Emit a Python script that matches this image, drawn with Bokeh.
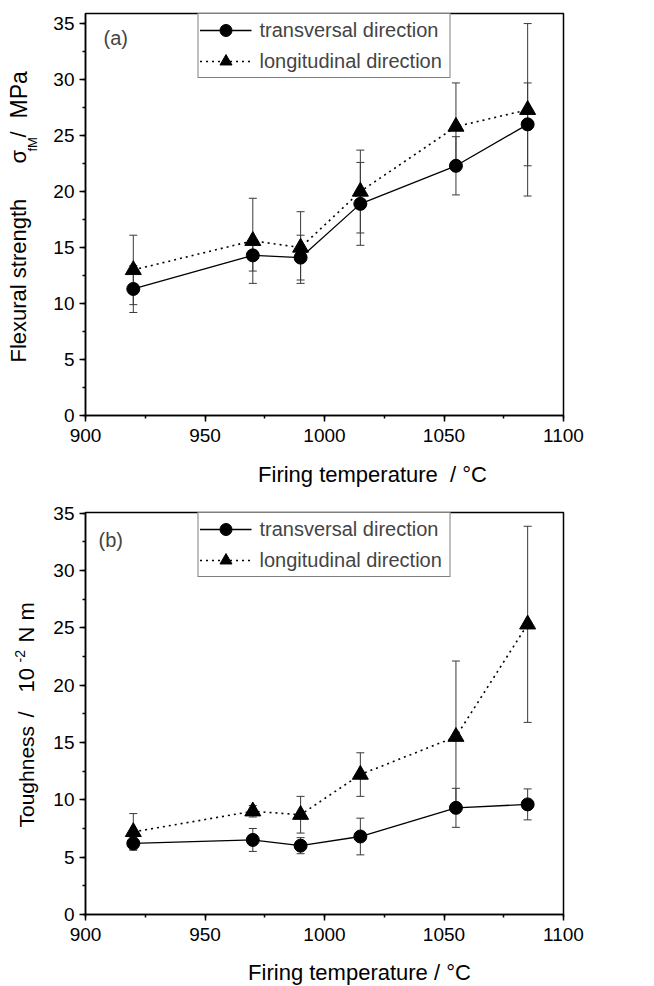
import math
from bokeh.plotting import figure
from bokeh.models import (SingleIntervalTicker, Range1d, Whisker, ColumnDataSource,
                          Legend, LegendItem, Label, TeeHead)
from bokeh.layouts import column, row
from bokeh.embed import file_html
from bokeh.resources import INLINE
from bokeh.core.properties import value

# ---------------- data ----------------
temps = [920, 970, 990, 1015, 1055, 1085]

flex_trans = [11.3, 14.3, 14.1, 18.9, 22.3, 26.0]
flex_trans_err = [2.1, 1.4, 2.0, 3.7, 2.6, 3.7]
flex_long = [13.0, 15.6, 15.0, 20.0, 25.8, 27.3]
flex_long_err = [3.1, 3.8, 3.2, 3.7, 3.9, 7.7]

tough_trans = [6.2, 6.5, 6.0, 6.8, 9.3, 9.6]
tough_trans_err = [0.5, 1.0, 0.7, 1.6, 1.7, 1.35]
tough_long = [7.2, 9.0, 8.7, 12.2, 15.5, 25.3]
tough_long_err = [1.6, 0.5, 1.6, 1.9, 6.6, 8.55]

legend_labels = ["transversal direction", "longitudinal direction"]
x_label_a = "Firing temperature \u00a0/ \u00b0C"
x_label_b = "Firing temperature / \u00b0C"
y_label_a = ["Flexural strength", "\u03c3", "fM", "/", "MPa"]
y_label_b = ["Toughness", "/", "10", "-2", "N m"]

FONT = "Liberation Sans"
FRAME_H = 402
LEFT, RIGHT = 37, 45
YLAB_W = 48


def make_panel(top, bottom, y_max, trans, trans_err, longi, longi_err, tag, tag_xy):
    p = figure(width=560, height=top + FRAME_H + bottom, output_backend="svg",
               toolbar_location=None,
               x_range=Range1d(900, 1100), y_range=Range1d(0, y_max),
               min_border_left=LEFT, min_border_right=RIGHT, min_border_top=top,
               min_border_bottom=bottom)
    p.xgrid.visible = False
    p.ygrid.visible = False
    p.outline_line_color = "black"
    p.outline_line_width = 1.5
    p.background_fill_color = "white"
    p.border_fill_color = "white"

    p.xaxis.ticker = SingleIntervalTicker(interval=50, num_minor_ticks=2)
    p.yaxis.ticker = SingleIntervalTicker(interval=5, num_minor_ticks=2)
    for ax in (p.xaxis[0], p.yaxis[0]):
        ax.axis_line_color = "black"
        ax.axis_line_width = 1.5
        ax.major_tick_line_color = "black"
        ax.major_tick_line_width = 1.5
        ax.minor_tick_line_color = "black"
        ax.minor_tick_line_width = 1.5
        ax.major_tick_in = 0
        ax.major_tick_out = 6
        ax.minor_tick_in = 0
        ax.minor_tick_out = 3
        ax.major_label_text_font = FONT
        ax.major_label_text_font_size = "19px"
        ax.major_label_text_color = "black"
    p.xaxis.major_label_standoff = 7
    p.yaxis.major_label_standoff = 5

    # error bars
    for vals, errs in ((trans, trans_err), (longi, longi_err)):
        src = ColumnDataSource(dict(
            x=temps,
            upper=[v + e for v, e in zip(vals, errs)],
            lower=[v - e for v, e in zip(vals, errs)],
        ))
        w = Whisker(source=src, base="x", upper="upper", lower="lower",
                    line_color="#3a3a3a", line_width=1,
                    upper_head=TeeHead(size=8, line_color="#3a3a3a", line_width=1),
                    lower_head=TeeHead(size=8, line_color="#3a3a3a", line_width=1))
        p.add_layout(w)

    l1 = p.line(temps, trans, line_color="black", line_width=1.3)
    s1 = p.scatter(temps, trans, marker="circle", size=13, fill_color="black", line_color="black")
    l2 = p.line(temps, longi, line_color="black", line_width=1.6, line_dash="2 4")
    s2 = p.scatter(temps, longi, marker="triangle", size=16, fill_color="black", line_color="black")

    legend = Legend(items=[LegendItem(label=legend_labels[0], renderers=[l1, s1]),
                           LegendItem(label=legend_labels[1], renderers=[l2, s2])],
                    location="top_center", margin=0, padding=1, spacing=1,
                    glyph_width=52, glyph_height=30, label_height=30, label_standoff=8,
                    label_width=189,
                    label_text_font=FONT, label_text_font_size="20px",
                    border_line_color="black", border_line_width=1.2,
                    background_fill_color="white", background_fill_alpha=1.0)
    p.add_layout(legend, "center")

    p.add_layout(Label(x=tag_xy[0], y=tag_xy[1], x_units="screen", y_units="screen",
                       text=tag, text_font=FONT, text_font_size="20px",
                       text_align="left", text_baseline="middle"))
    return p


def text_fig(w, h, bl, br, bt, bb):
    f = figure(width=w, height=h, output_backend="svg", toolbar_location=None,
               x_range=Range1d(0, w - bl - br), y_range=Range1d(0, h - bt - bb),
               x_axis_type=None, y_axis_type=None,
               min_border_left=bl, min_border_right=br, min_border_top=bt,
               min_border_bottom=bb)
    f.xgrid.visible = False
    f.ygrid.visible = False
    f.outline_line_color = None
    f.background_fill_color = "white"
    f.border_fill_color = "white"
    return f


def add_text(f, x, y, txt, size, angle=0.0, align="left"):
    f.text(x=[x], y=[y], text=[txt], angle=angle, text_font=value(FONT),
           text_font_size=value(size), text_align=align, text_baseline="alphabetic",
           text_color="black")


rot = math.pi / 2

# ---------------- panel (a) ----------------
TOP_A, BOT_A = 13, 40
pa = make_panel(TOP_A, BOT_A, 35.9, flex_trans, flex_trans_err, flex_long, flex_long_err,
                "(a)", (18, 378))
ya = text_fig(YLAB_W, pa.height, 0, 0, TOP_A, BOT_A)
add_text(ya, 18, 53, y_label_a[0], "22px", rot)
add_text(ya, 18, 252, y_label_a[1], "22px", rot)
add_text(ya, 32, 264, y_label_a[2], "13px", rot)
add_text(ya, 18, 278, y_label_a[3], "22px", rot)
add_text(ya, 18, 297, y_label_a[4], "23px", rot)
xa = text_fig(YLAB_W + 560, 45, YLAB_W + LEFT, RIGHT, 0, 0)
add_text(xa, 287, 26, x_label_a, "22px", 0.0, "center")

# ---------------- panel (b) ----------------
TOP_B, BOT_B = 12, 38
pb = make_panel(TOP_B, BOT_B, 35.05, tough_trans, tough_trans_err, tough_long, tough_long_err,
                "(b)", (13, 375))
yb = text_fig(YLAB_W, pb.height, 0, 0, TOP_B, BOT_B)
add_text(yb, 26, 87, y_label_b[0], "21px", rot)
add_text(yb, 26, 197, y_label_b[1], "22px", rot)
add_text(yb, 26, 222, y_label_b[2], "22px", rot)
add_text(yb, 19, 252, y_label_b[3], "14px", rot)
add_text(yb, 26, 272, y_label_b[4], "22px", rot)
xb = text_fig(YLAB_W + 560, 34, YLAB_W + LEFT, RIGHT, 0, 0)
add_text(xb, 274, 14, x_label_b, "22px", 0.0, "center")

layout = column(row(ya, pa, spacing=0), xa, row(yb, pb, spacing=0), xb, spacing=0)
open("out.html", "w").write(file_html(layout, INLINE))
